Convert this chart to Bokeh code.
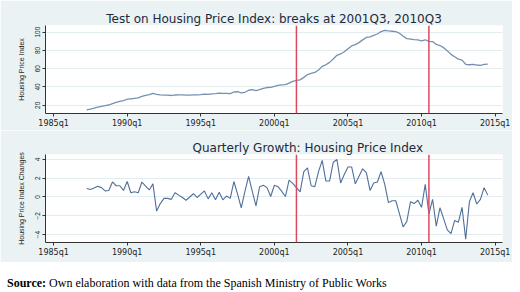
from bokeh.plotting import figure
from bokeh.models import Range1d, FixedTicker, Span, Div
from bokeh.layouts import column
from bokeh.embed import file_html
from bokeh.resources import INLINE

# ---- data ----
start_year = 1987
start_quarter = 2

hpi = [
    15.0, 15.8, 16.8, 17.9, 18.9, 19.6, 20.3, 21.9, 23.1, 24.3,
    25.0, 26.6, 27.1, 27.6, 28.1, 29.7, 30.8, 31.6, 33.0,
    32.0, 31.3, 31.1, 31.0, 30.7, 31.2, 31.4, 31.3, 31.0, 31.0,
    31.3, 31.3, 31.6, 32.2, 32.0, 32.5,
    32.7, 33.2, 32.9, 33.0, 32.8, 34.5, 34.8, 33.6, 34.2, 36.4,
    37.0, 36.1, 37.2, 38.4, 39.4, 39.5, 40.7, 41.8, 42.4, 42.5, 44.3,
    46.2, 47.2, 47.8, 50.5, 53.6, 54.8, 55.9, 58.6, 62.5, 64.2,
    66.9, 70.6, 74.6, 76.1, 78.5, 81.7, 84.9, 86.3, 88.5, 91.5,
    94.1, 94.8, 96.3, 97.9, 100.6, 101.9, 101.3, 100.9, 100.5, 98.7,
    95.5, 92.9, 92.4, 91.7, 91.4, 90.3, 91.6, 89.8, 89.6, 86.5,
    85.3, 83.0, 79.5, 75.6, 73.1, 70.4, 69.3, 64.8, 64.3, 64.7,
    64.0, 63.7, 64.7, 64.9,
]

growth = [
    0.9, 0.8, 0.95, 1.15, 1.0, 0.65, 0.7, 1.6, 1.2, 1.2,
    0.7, 1.65, 0.45, 0.55, 0.45, 1.6, 1.15, 0.75, 1.4, -1.5,
    -0.7, -0.15, -0.15, -0.25, 0.45, 0.2, -0.05, -0.35, 0.0, 0.35,
    -0.05, 0.3, 0.65, -0.2, 0.45, -0.3, 0.5, -0.3, 0.1, -0.15,
    1.65, 0.3, -1.15, 0.6, 2.2, 0.6, -0.95, 1.1, 1.25, 1.0,
    0.05, 1.25, 1.1, 0.6, 0.05, 1.8, 1.45, 1.0, 0.55, 2.7,
    3.1, 1.2, 1.1, 2.7, 3.9, 1.7, 1.7, 3.7, 4.0, 1.5,
    2.4, 3.2, 3.2, 1.4, 2.2, 3.0, 2.6, 0.7, 1.5, 1.6,
    2.7, 1.35, -0.6, -0.4, -0.4, -1.8, -3.2, -2.6, -0.5, -0.7,
    -0.35, -1.1, 1.35, -1.8, -0.25, -3.1, -1.15, -2.3, -3.5, -3.9,
    -2.5, -2.7, -1.1, -4.5, -0.5, 0.45, -0.75, -0.25, 1.0, 0.2,
]

dates = [start_year + (start_quarter - 1 + i) / 4 for i in range(len(hpi))]

breaks = [2001.5, 2010.5]  # 2001Q3, 2010Q3

tick_years = [1985, 1990, 1995, 2000, 2005, 2010, 2015]
tick_labels = ["1985q1", "1990q1", "1995q1", "2000q1", "2005q1", "2010q1", "2015q1"]
hpi_ticks = [20, 40, 60, 80, 100]
growth_ticks = [-4, -2, 0, 2, 4]

title_top = "Test on Housing Price Index: breaks at 2001Q3, 2010Q3"
title_bottom = "Quarterly Growth: Housing Price Index"
ylabel_top = "Housing Price Index"
ylabel_bottom = "Housing Price Index Changes"
source_bold = "Source:"
source_text = "Own elaboration with data from the Spanish Ministry of Public Works"

# ---- style ----
BG = "#EAF2F3"
GRID = "#E3ECEE"
RED = "#DC4A60"
TXT = "#1c2a3e"
W = 512


def make_panel(height, top, bottom, yrange, yticks, ylabel, title, title_align,
               title_offset, ys, line_color, line_width):
    p = figure(width=W, height=height,
               x_range=Range1d(1984.45, 2015.5), y_range=Range1d(*yrange),
               output_backend="svg", toolbar_location=None,
               min_border_left=45, min_border_right=10,
               min_border_top=top, min_border_bottom=bottom,
               background_fill_color="white", border_fill_color=BG,
               outline_line_color=None)
    # title
    p.title.text = title
    p.title.align = title_align
    p.title.offset = title_offset
    p.title.standoff = 0
    p.title.text_font = "DejaVu Sans"
    p.title.text_font_size = "12px"
    p.title.text_font_style = "normal"
    p.title.text_color = TXT
    # x axis
    p.xaxis.ticker = FixedTicker(ticks=tick_years)
    p.xaxis.major_label_overrides = {y: l for y, l in zip(tick_years, tick_labels)}
    p.xaxis.major_tick_out = 3
    p.xaxis.major_tick_in = 0
    p.xaxis.minor_tick_out = 0
    p.xaxis.minor_tick_in = 0
    p.xaxis.major_label_standoff = 2
    p.xaxis.major_label_text_font = "DejaVu Sans"
    p.xaxis.major_label_text_font_size = "8px"
    p.xaxis.major_label_text_color = "#222222"
    p.xaxis.axis_line_color = "#333333"
    p.xaxis.major_tick_line_color = "#333333"
    # y axis
    p.yaxis.ticker = FixedTicker(ticks=yticks)
    p.yaxis.major_tick_out = 3
    p.yaxis.major_tick_in = 0
    p.yaxis.minor_tick_out = 0
    p.yaxis.minor_tick_in = 0
    p.yaxis.major_label_orientation = "vertical"
    p.yaxis.major_label_standoff = 2
    p.yaxis.major_label_text_font = "Liberation Sans"
    p.yaxis.major_label_text_font_size = "6.5px"
    p.yaxis.major_label_text_color = "#222222"
    p.yaxis.axis_line_color = "#333333"
    p.yaxis.major_tick_line_color = "#333333"
    p.yaxis.axis_label = ylabel
    p.yaxis.axis_label_text_font = "Liberation Sans"
    p.yaxis.axis_label_text_font_size = "7px"
    p.yaxis.axis_label_text_font_style = "normal"
    p.yaxis.axis_label_text_color = "#222222"
    p.yaxis.axis_label_standoff = 8
    # grid
    p.xgrid.visible = False
    p.ygrid.ticker = FixedTicker(ticks=yticks)
    p.ygrid.grid_line_color = GRID
    p.ygrid.grid_line_width = 1

    p.line(dates, ys, line_color=line_color, line_width=line_width)
    for b in breaks:
        p.add_layout(Span(location=b, dimension="height", line_color=RED,
                          line_width=1.5))
    return p


p1 = make_panel(130, 25, 16, (11.0, 107.2), hpi_ticks, ylabel_top, title_top,
                "center", 0, hpi, "#7591b0", 1.3)
p2 = make_panel(132, 24, 20, (-4.85, 4.53), growth_ticks, ylabel_bottom,
                title_bottom, "left", 147, growth, "#50709a", 1.1)

src = Div(text=f"<b>{source_bold}</b> {source_text}", width=W, height=22,
          styles={"font-family": "'Liberation Serif', 'Times New Roman', serif",
                  "font-size": "12px", "color": "#000000",
                  "padding-top": "8px", "padding-left": "2px",
                  "white-space": "nowrap"})

layout = column(p1, p2, src, spacing=0)

open("out.html", "w").write(file_html(layout, INLINE))
